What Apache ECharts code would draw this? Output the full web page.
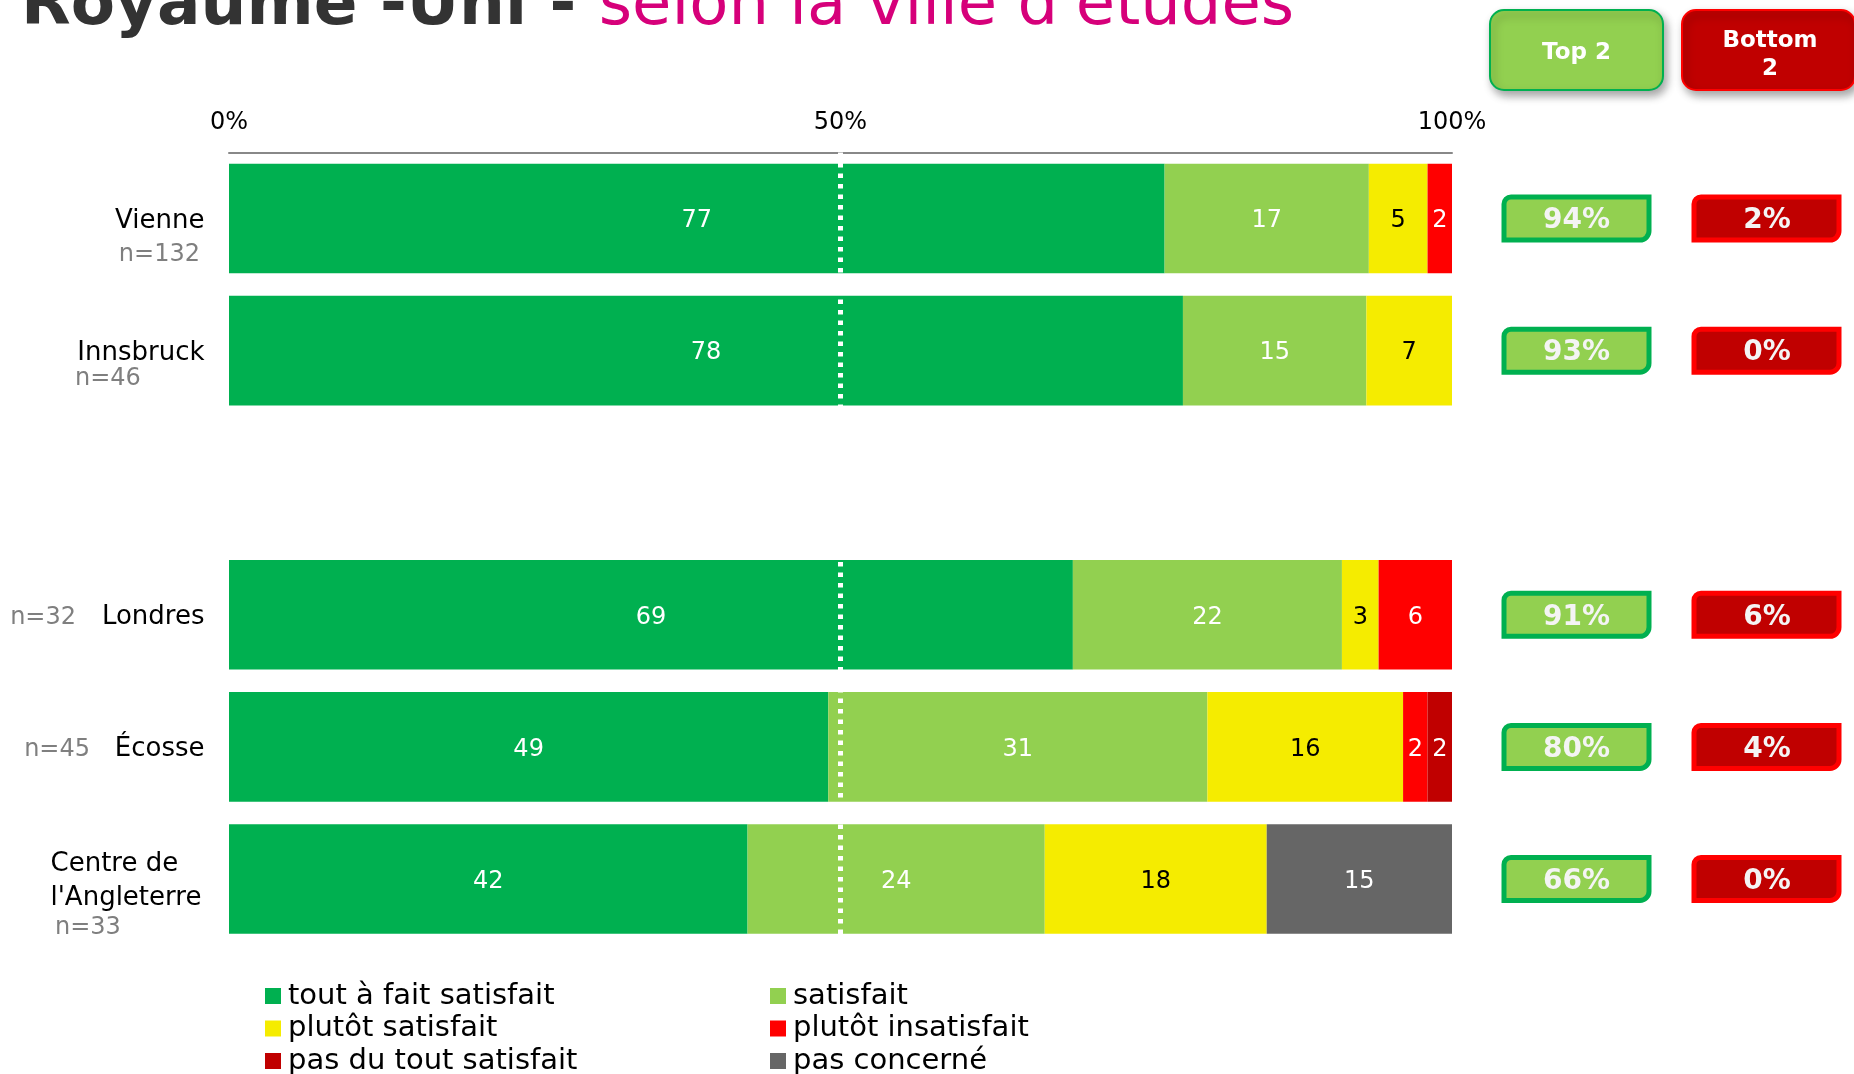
<!DOCTYPE html>
<html>
<head>
<meta charset="utf-8">
<title>Royaume-Uni - selon la ville d'études</title>
<script src="https://cdn.jsdelivr.net/npm/echarts@6/dist/echarts.min.js"></script>
<style>
  html, body { margin: 0; padding: 0; background: #fff; }
  #main { width: 1854px; height: 1074px; }
</style>
</head>
<body>
<div id="main"></div>
<script>
// données (en %)
var cities = ['Vienne', 'Innsbruck', '', 'Londres', 'Écosse', "Centre de\nl'Angleterre"];
var sampleSizes = ['n=132', 'n=46', '', 'n=32', 'n=45', 'n=33'];

var toutAFait = [76.5, 78, null, 69, 49, 42.4];
var satisfait = [16.7, 15, null, 22, 31, 24.3];
var plutotSatisfait = [4.8, 7, null, 3, 16, 18.15];
var plutotInsatisfait = [2.0, null, null, 6, 2, null];
var pasDuTout = [null, null, null, null, 2, null];
var pasConcerne = [null, null, null, null, null, 15.15];

var top2 = [94, 93, null, 91, 80, 66];
var bottom2 = [2, 0, null, 6, 4, 0];

var xTicks = [0, 50, 100];

var FONT = "'DejaVu Sans', Verdana, sans-serif";

// position des "n=" par rapport au nom de ville
var nLayout = [
    { align: 'right', x: 200, dy: 36.5 },
    { align: 'left', x: 75, dy: 28.5 },
    null,
    { align: 'right', x: 76, dy: 2.5 },
    { align: 'right', x: 90, dy: 2.5 },
    { align: 'left', x: 55, dy: 49 }
];

var myChart = echarts.init(document.getElementById('main'));

function barSeries(name, data, color, labelColor) {
    return {
        name: name,
        type: 'bar',
        stack: 'total',
        barCategoryGap: '17%',
        data: data,
        itemStyle: { color: color },
        label: {
            show: true,
            position: 'inside',
            offset: [0, 2.5],
            color: labelColor,
            fontSize: 24,
            fontFamily: FONT,
            formatter: function (p) { return Math.round(p.value); }
        }
    };
}

var series = [
    barSeries('tout à fait satisfait', toutAFait, '#00B050', '#fff'),
    barSeries('satisfait', satisfait, '#92D050', '#fff'),
    barSeries('plutôt satisfait', plutotSatisfait, '#F5EC00', '#000'),
    barSeries('plutôt insatisfait', plutotInsatisfait, '#FF0000', '#fff'),
    barSeries('pas du tout satisfait', pasDuTout, '#C00000', '#fff'),
    barSeries('pas concerné', pasConcerne, '#666666', '#fff')
];

// ligne pointillée à 50 %
series[series.length - 1].markLine = {
    silent: true,
    symbol: ['none', 'none'],
    label: { show: false },
    lineStyle: { color: '#fff', width: 5, type: [4.5, 6], opacity: 1 },
    data: [{ xAxis: 50 }]
};

// encadrés Top 2 / Bottom 2
var boxData = [];
top2.forEach(function (v, i) {
    if (v !== null) boxData.push([0, i, v, bottom2[i]]);
});
series.push({
    name: 'top-bottom',
    type: 'custom',
    clip: false,
    silent: true,
    encode: { x: 0, y: 1 },
    data: boxData,
    renderItem: function (params, api) {
        var yc = api.coord([0, api.value(1)])[1];
        return {
            type: 'group',
            children: [
                {
                    type: 'rect',
                    shape: { x: 1504, y: yc - 21.5, width: 145, height: 43, r: [7, 0, 9, 0] },
                    style: { fill: '#92D050', stroke: '#00B050', lineWidth: 5 }
                },
                {
                    type: 'text',
                    x: 1576.5, y: yc + 2.5,
                    style: {
                        text: api.value(2) + '%', fill: '#F4F4F4', align: 'center', verticalAlign: 'middle',
                        font: 'bold 28px ' + FONT
                    }
                },
                {
                    type: 'rect',
                    shape: { x: 1694, y: yc - 21.5, width: 145, height: 43, r: [7, 0, 9, 0] },
                    style: { fill: '#C00000', stroke: '#FF0000', lineWidth: 5 }
                },
                {
                    type: 'text',
                    x: 1767, y: yc + 2.5,
                    style: {
                        text: api.value(3) + '%', fill: '#F4F4F4', align: 'center', verticalAlign: 'middle',
                        font: 'bold 28px ' + FONT
                    }
                }
            ]
        };
    }
});

// effectifs n=
var nData = [];
sampleSizes.forEach(function (s, i) {
    if (s) nData.push([0, i]);
});
series.push({
    name: 'effectifs',
    type: 'custom',
    clip: false,
    silent: true,
    encode: { x: 0, y: 1 },
    data: nData,
    renderItem: function (params, api) {
        var i = api.value(1);
        var yc = api.coord([0, i])[1];
        var lay = nLayout[i];
        return {
            type: 'text',
            x: lay.x, y: yc + lay.dy,
            style: {
                text: sampleSizes[i], fill: '#7F7F7F', align: lay.align, verticalAlign: 'middle',
                font: '24px ' + FONT
            }
        };
    }
});

function legendCol(left, names) {
    return {
        orient: 'vertical',
        left: left,
        top: 981.5,
        height: 120,
        padding: 0,
        icon: 'rect',
        itemWidth: 16,
        itemHeight: 16,
        itemGap: 3.5,
        selectedMode: false,
        data: names,
        textStyle: { fontSize: 29, color: '#000', fontFamily: FONT, lineHeight: 28, padding: [0, 0, 0, 2] }
    };
}

var option = {
    animation: false,
    backgroundColor: '#fff',
    textStyle: { fontFamily: FONT },
    grid: { left: 229, right: 402, top: 152.5, bottom: 129 },
    xAxis: {
        type: 'value',
        position: 'top',
        min: xTicks[0],
        max: xTicks[xTicks.length - 1],
        interval: 50,
        axisLine: { show: true, lineStyle: { color: '#888', width: 2 } },
        axisTick: { show: false },
        splitLine: { show: false },
        axisLabel: { formatter: '{value}%', fontSize: 24, color: '#000', margin: 18, lineHeight: 24, fontFamily: FONT }
    },
    yAxis: {
        type: 'category',
        inverse: true,
        data: cities,
        axisLine: { show: false },
        axisTick: { show: false },
        splitLine: { show: false },
        axisLabel: {
            fontSize: 26,
            color: '#000',
            margin: 24.5,
            lineHeight: 34,
            padding: [5, 0, 0, 0],
            fontFamily: FONT,
            formatter: function (v) {
                if (v.indexOf('\n') >= 0) {
                    return v.split('\n').map(function (l) { return '{a|' + l + '}'; }).join('\n');
                }
                return v;
            },
            rich: {
                a: { width: 154, align: 'left', fontSize: 26, lineHeight: 34, color: '#000', fontFamily: FONT }
            }
        }
    },
    legend: [
        legendCol(265, ['tout à fait satisfait', 'plutôt satisfait', 'pas du tout satisfait']),
        legendCol(770, ['satisfait', 'plutôt insatisfait', 'pas concerné'])
    ],
    graphic: [
        {
            type: 'text',
            x: 21, y: 7,
            style: {
                text: '{b|Royaume -Uni - }{r|selon la ville d\'études}',
                verticalAlign: 'middle',
                rich: {
                    b: { font: 'bold 64.5px ' + FONT, fill: '#333333' },
                    r: { font: '64px ' + FONT, fill: '#D6007A' }
                }
            }
        },
        {
            type: 'rect',
            shape: { x: 1490, y: 10, width: 173, height: 80, r: 14 },
            style: {
                fill: '#92D050', stroke: '#00B050', lineWidth: 2,
                shadowBlur: 8, shadowColor: 'rgba(0,0,0,0.35)', shadowOffsetX: 3, shadowOffsetY: 5
            }
        },
        {
            type: 'text',
            x: 1576.5, y: 53,
            style: { text: 'Top 2', fill: '#fff', align: 'center', verticalAlign: 'middle', font: 'bold 23px ' + FONT }
        },
        {
            type: 'rect',
            shape: { x: 1682, y: 10, width: 173, height: 80, r: 14 },
            style: {
                fill: '#C00000', stroke: '#FF0000', lineWidth: 2,
                shadowBlur: 8, shadowColor: 'rgba(0,0,0,0.35)', shadowOffsetX: 3, shadowOffsetY: 5
            }
        },
        {
            type: 'text',
            x: 1770, y: 55.5,
            style: { text: 'Bottom\n2', fill: '#fff', align: 'center', verticalAlign: 'middle', lineHeight: 28, font: 'bold 23px ' + FONT }
        }
    ],
    series: series
};

myChart.setOption(option);
</script>
</body>
</html>
